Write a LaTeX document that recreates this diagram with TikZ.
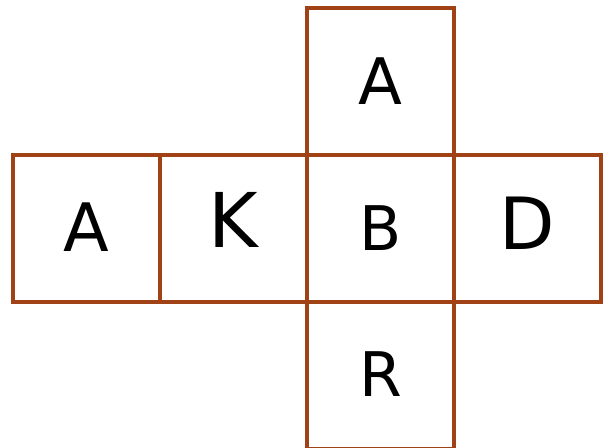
\documentclass[tikz,border=0pt]{standalone}
\usepackage{fontspec}
\setmainfont{DejaVu Sans}
\usepackage{tikz}
\definecolor{netbrown}{RGB}{160,66,22}
\newcommand{\lettersize}[1]{\fontsize{#1}{#1}\selectfont}

\begin{document}
\begin{tikzpicture}[
  face/.style={draw=netbrown, line width=1.8pt},
  letter/.style={inner sep=0pt, text=black}]
  \def\a{2.94}
  \def\x{0.26}\def\ym{2.9}
  \useasboundingbox (0,0) rectangle (12.24,8.94);
  \clip (0,0) rectangle (12.24,8.94);

  % ===== middle row: four faces =====
  \foreach \i in {0,...,3}{
    \draw[face] (\x+\i*\a,\ym) rectangle (\x+\i*\a+\a,\ym+\a);
  }
  % ===== top and bottom faces =====
  \draw[face] (\x+2*\a,\ym+\a) rectangle (\x+3*\a,\ym+2*\a);
  \draw[face] (\x+2*\a,\ym-\a) rectangle (\x+3*\a,\ym);

  % ===== letters =====
  \node[letter,font=\lettersize{38}] (left) at (\x+0.5*\a,\ym+0.5*\a+0.02) {A};
  \node[letter,font=\lettersize{43}] (kay) at (\x+1.5*\a,\ym+0.5*\a+0.17) {K};
  \node[letter,font=\lettersize{35}] (bee) at (\x+2.5*\a,\ym+0.5*\a) {B};
  \node[letter,font=\lettersize{41}] (dee) at (\x+3.5*\a,\ym+0.5*\a+0.11) {D};
  \node[letter,font=\lettersize{36.5}] (top) at (\x+2.5*\a,\ym+1.5*\a) {A};
  \node[letter,font=\lettersize{35}] (arr) at (\x+2.5*\a,\ym-0.5*\a+0.03) {R};
\end{tikzpicture}
\end{document}
